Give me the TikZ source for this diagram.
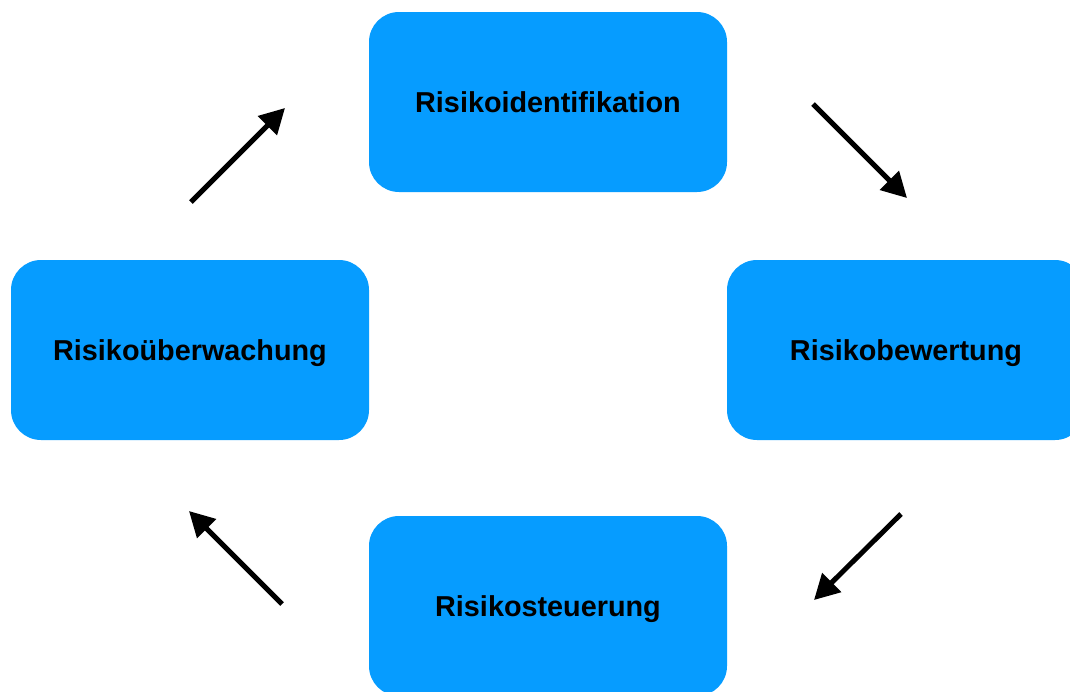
\documentclass[tikz,border=0pt]{standalone}
\usepackage{fontspec}
\setmainfont{Liberation Sans}
\usetikzlibrary{arrows.meta}
\definecolor{boxblue}{RGB}{6,156,255}
\begin{document}
\begin{tikzpicture}[x=1pt,y=-1pt,
  stepbox/.style={rectangle, rounded corners=30pt, fill=boxblue, draw=none,
    minimum width=358pt, minimum height=180pt, inner sep=0pt,
    text height=20.6pt, text depth=0pt,
    font=\fontsize{28.8}{34}\selectfont\bfseries},
  flowarrow/.style={line width=5pt, -{Triangle[length=25pt,width=26pt]}}]
\useasboundingbox (0,0) rectangle (1070,691);
\fill[white] (0,0) rectangle (1070,691);
\node[stepbox] (ident) at (548,102) {Risikoidentifikation};
\node[stepbox] (bew) at (906,350) {Risikobewertung};
\node[stepbox] (steu) at (548,606) {Risikosteuerung};
\node[stepbox] (ueb) at (190,350) {Risikoüberwachung};
\coordinate (a1s) at (191,202); \coordinate (a1e) at (285,108);
\coordinate (a2s) at (813,104); \coordinate (a2e) at (907,198);
\coordinate (a3s) at (901,514); \coordinate (a3e) at (814,600);
\coordinate (a4s) at (282,604); \coordinate (a4e) at (189,511);
\draw[flowarrow] (a1s) -- (a1e);
\draw[flowarrow] (a2s) -- (a2e);
\draw[flowarrow] (a3s) -- (a3e);
\draw[flowarrow] (a4s) -- (a4e);
\end{tikzpicture}
\end{document}
